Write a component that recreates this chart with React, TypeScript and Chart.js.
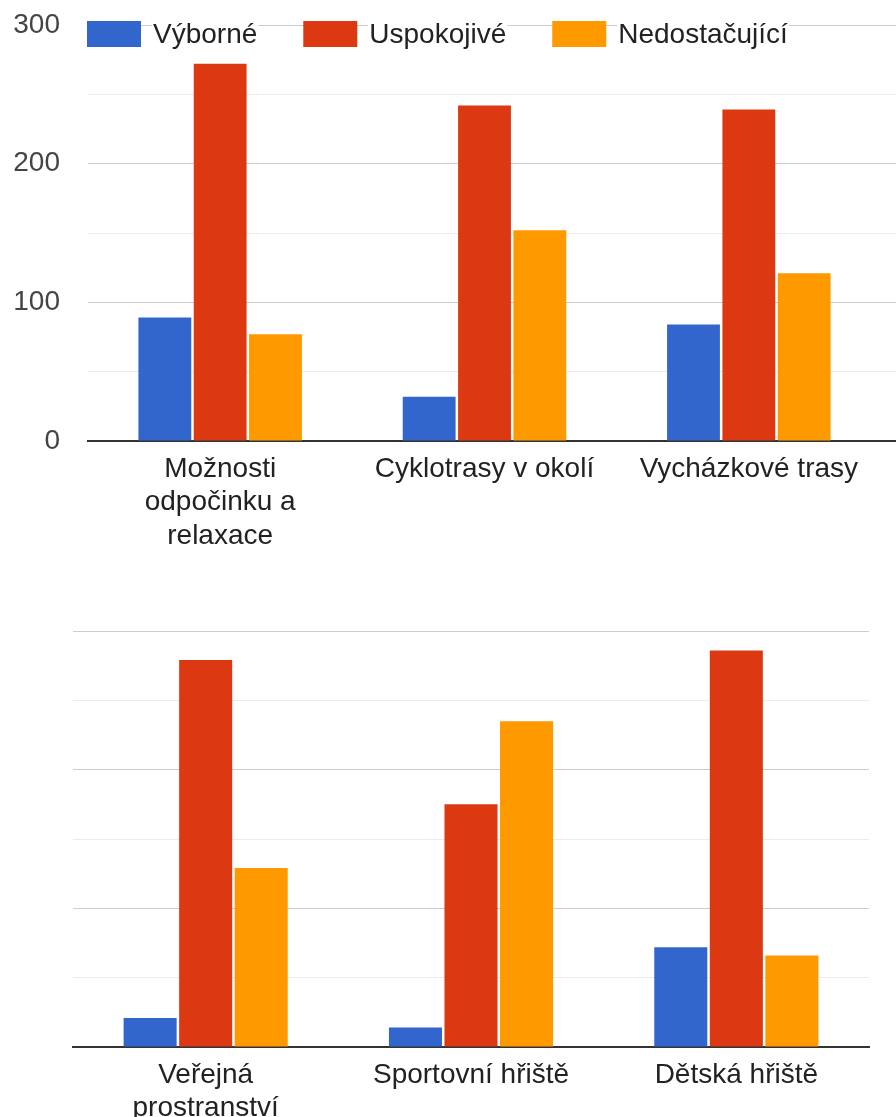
import React, { useEffect, useRef } from 'react';
import { Chart, registerables } from 'chart.js';

Chart.register(...registerables);

const seriesNames = ['Výborné', 'Uspokojivé', 'Nedostačující'];
const seriesColors = ['#3366CC', '#DC3912', '#FF9900'];

const topCategories: (string | string[])[] = [['Možnosti', 'odpočinku a', 'relaxace'], 'Cyklotrasy v okolí', 'Vycházkové trasy'];
const topVyborne = [89, 32, 84];
const topUspokojive = [272, 242, 239];
const topNedostacujici = [77, 152, 121];

const bottomCategories: (string | string[])[] = [['Veřejná', 'prostranství'], 'Sportovní hřiště', 'Dětská hřiště'];
const bottomVyborne = [21, 14, 72];
const bottomUspokojive = [279, 175, 286];
const bottomNedostacujici = [129, 235, 66];

const yMin = 0;
const yMax = 300;
const yStep = 50;
const yLabelStep = 100;

const FONT = 'Arial, "Liberation Sans", sans-serif';

function gridColor(v: number) {
  if (v === 0) return 'rgba(0,0,0,0)';
  return v % yLabelStep === 0 ? '#cccccc' : '#ebebeb';
}

const extendPlugin = {
  id: 'extendGrid',
  beforeDatasetsDraw(chart: any) {
    const { ctx, chartArea } = chart;
    const y = chart.scales.y;
    ctx.save();
    y.ticks.forEach((t: any) => {
      const isZero = t.value === 0;
      const p = y.getPixelForValue(t.value);
      const py = isZero ? Math.round(p) : Math.round(p - 0.5) + 0.5;
      ctx.strokeStyle = isZero ? '#333333' : gridColor(t.value);
      ctx.lineWidth = isZero ? 2 : 1;
      ctx.beginPath();
      ctx.moveTo(chartArea.right - 1, py);
      ctx.lineTo(chart.width, py);
      ctx.stroke();
    });
    ctx.restore();
  },
};

const legendPlugin = {
  id: 'topLegend',
  afterDraw(chart: any) {
    const { ctx } = chart;
    ctx.save();
    ctx.font = `28px ${FONT}`;
    ctx.textBaseline = 'middle';
    let x = 87;
    const boxTop = 21;
    const boxW = 54;
    const boxH = 26;
    const textY = 35;
    chart.data.datasets.forEach((ds: any) => {
      ctx.fillStyle = ds.backgroundColor;
      ctx.fillRect(x, boxTop, boxW, boxH);
      x += boxW + 12;
      const w = ctx.measureText(ds.label).width;
      ctx.fillStyle = '#ffffff';
      ctx.fillRect(x - 1, 20, w + 2, 30);
      ctx.fillStyle = '#222222';
      ctx.fillText(ds.label, x, textY);
      x += w + 46;
    });
    ctx.restore();
  },
};

function makeConfig(
  labels: (string | string[])[],
  a: number[],
  b: number[],
  c: number[],
  opts: { showY: boolean; yWidth: number; xHeight: number; padTop: number; padRight: number; plugins: any[] }
): any {
  const values = [a, b, c];
  return {
    type: 'bar',
    data: {
      labels,
      datasets: seriesNames.map((n, i) => ({
        label: n,
        data: values[i],
        backgroundColor: seriesColors[i],
        borderWidth: 0,
        categoryPercentage: 0.628,
        barPercentage: 0.955,
      })),
    },
    options: {
      responsive: false,
      maintainAspectRatio: false,
      animation: false,
      layout: { padding: { top: opts.padTop, right: opts.padRight, left: 0, bottom: 0 } },
      plugins: {
        legend: { display: false },
        tooltip: { enabled: false },
        title: { display: false },
      },
      scales: {
        x: {
          z: 1,
          grid: { display: false, drawTicks: false },
          border: { display: true, color: '#333333', width: 2 },
          ticks: {
            color: '#222222',
            font: { family: FONT, size: 28, lineHeight: 1.2 },
            padding: 11,
            maxRotation: 0,
            minRotation: 0,
            autoSkip: false,
          },
          afterFit: (s: any) => {
            s.height = opts.xHeight;
            s.paddingLeft = 0;
            s.paddingRight = 0;
          },
        },
        y: {
          min: yMin,
          max: yMax,
          border: { display: false },
          grid: {
            drawTicks: false,
            color: (ctx: any) => gridColor(ctx.tick.value),
            lineWidth: 1,
          },
          ticks: {
            display: opts.showY,
            stepSize: yStep,
            color: '#444444',
            padding: 28,
            font: { family: FONT, size: 28 },
            callback: (v: any) => (Number(v) % yLabelStep === 0 ? String(v) : ''),
          },
          afterFit: (s: any) => {
            s.width = opts.yWidth;
            s.paddingTop = 0;
            s.paddingBottom = 0;
          },
        },
      },
    },
    plugins: opts.plugins,
  };
}

function ChartCanvas({ config, width, height, top }: { config: any; width: number; height: number; top: number }) {
  const ref = useRef<HTMLCanvasElement | null>(null);
  useEffect(() => {
    if (!ref.current) return;
    const chart = new Chart(ref.current, config);
    return () => chart.destroy();
  }, []);
  return (
    <canvas
      ref={ref}
      width={width}
      height={height}
      style={{ position: 'absolute', left: 0, top, width, height }}
    />
  );
}

export default function App() {
  const topConfig = makeConfig(topCategories, topVyborne, topUspokojive, topNedostacujici, {
    showY: true,
    yWidth: 88,
    xHeight: 560 - 441,
    padTop: 25,
    padRight: 15,
    plugins: [extendPlugin, legendPlugin],
  });
  const bottomConfig = makeConfig(bottomCategories, bottomVyborne, bottomUspokojive, bottomNedostacujici, {
    showY: false,
    yWidth: 73,
    xHeight: 1117 - 1047,
    padTop: 31,
    padRight: 27,
    plugins: [],
  });
  return (
    <div style={{ position: 'absolute', left: 0, top: 0, width: 896, height: 1117, overflow: 'hidden', background: '#fff' }}>
      <ChartCanvas config={topConfig} width={896} height={560} top={0} />
      <ChartCanvas config={bottomConfig} width={896} height={517} top={600} />
    </div>
  );
}
